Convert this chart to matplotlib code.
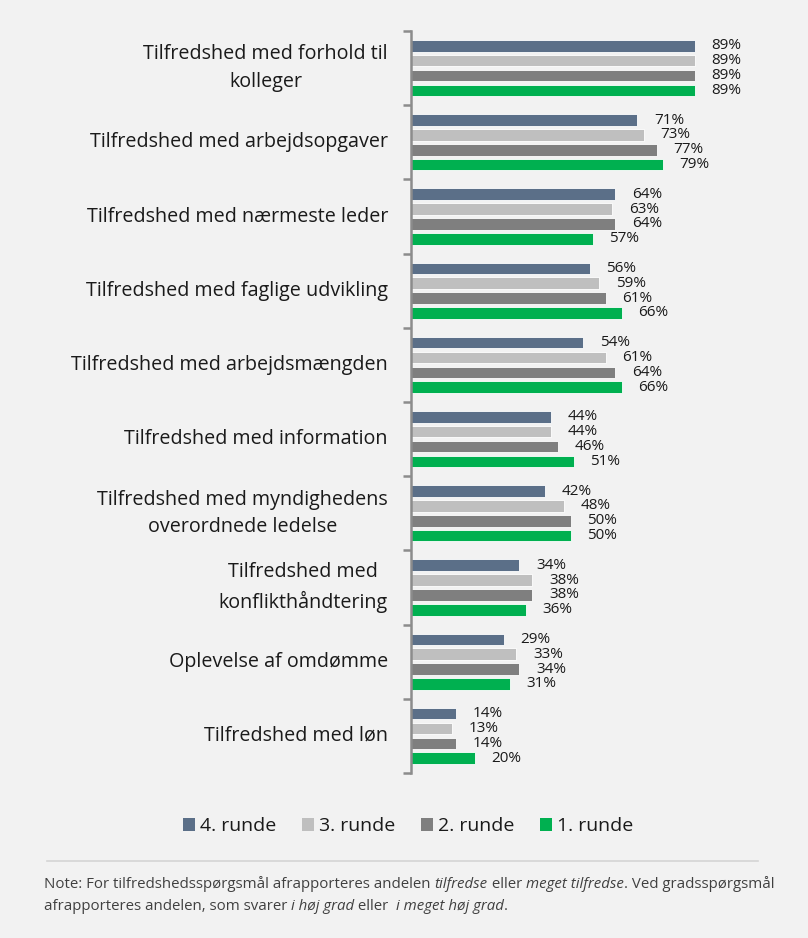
import numpy as np
import matplotlib
matplotlib.use("Agg")
from matplotlib import pyplot as plt
from matplotlib.patches import Patch
from matplotlib.lines import Line2D

plt.rcParams['font.family'] = ['Open Sans', 'DejaVu Sans']

# data
categories = [
    "Tilfredshed med forhold til\nkolleger",
    "Tilfredshed med arbejdsopgaver",
    "Tilfredshed med nærmeste leder",
    "Tilfredshed med faglige udvikling",
    "Tilfredshed med arbejdsmængden",
    "Tilfredshed med information",
    "Tilfredshed med myndighedens\noverordnede ledelse",
    "Tilfredshed med\nkonflikthåndtering",
    "Oplevelse af omdømme",
    "Tilfredshed med løn",
]
rounds = ["4. runde", "3. runde", "2. runde", "1. runde"]
runde4 = [89, 71, 64, 56, 54, 44, 42, 34, 29, 14]
runde3 = [89, 73, 63, 59, 61, 44, 48, 38, 33, 13]
runde2 = [89, 77, 64, 61, 64, 46, 50, 38, 34, 14]
runde1 = [89, 79, 57, 66, 66, 51, 50, 36, 31, 20]
series = [runde4, runde3, runde2, runde1]
colors = ["#5b6f88", "#bfbfbf", "#7f7f7f", "#00b050"]

bg = "#f2f2f2"
txtc = "#1a1a1a"
fig = plt.figure(figsize=(8.08, 9.38), dpi=100, facecolor=bg)
ax = fig.add_axes([411/808, 1-773/938, 319/808, (773-31)/938])
ax.set_facecolor(bg)

y = np.arange(len(categories))
pitch = 0.2
h = pitch * 0.78
for k, (vals, c) in enumerate(zip(series, colors)):
    pos = y + (k - 1.5) * pitch
    ax.barh(pos, vals, height=h, color=c, edgecolor="white", linewidth=0.6)
    for p, v in zip(pos, vals):
        ax.annotate(f"{v}%", (v, p), xytext=(12, 0), textcoords="offset points",
                    va="center", ha="left", fontsize=11, color=txtc,
                    annotation_clip=False)

ax.set_xlim(0, 100)
ax.set_ylim(len(categories) - 0.5, -0.5)
for s in ["top", "right", "bottom"]:
    ax.spines[s].set_visible(False)
ax.spines["left"].set_color("#8c8c8c")
ax.spines["left"].set_linewidth(1.8)
ax.set_xticks([])
ax.set_yticks(np.arange(-0.5, len(categories), 1))
ax.set_yticklabels([])
ax.tick_params(axis="y", length=6, width=1.8, color="#8c8c8c")

for i, cat in enumerate(categories):
    ax.text(-23/3.19, i, cat, ha="right", va="center", multialignment="center",
            fontsize=14.2, color=txtc, linespacing=1.5)

handles = [Patch(facecolor=c, edgecolor="none") for c in colors]
fig.legend(handles, rounds, loc="center", bbox_to_anchor=(408/808, 1-826/938),
           ncol=4, frameon=False, fontsize=14, handlelength=0.65, handleheight=0.65,
           handletextpad=0.25, columnspacing=1.3, labelcolor=txtc)

fig.add_artist(Line2D([47/808, 758/808], [1-861/938, 1-861/938], color="#d4d4d4", lw=1.2))

# note with italic runs
note_lines = [
    [("Note: For tilfredshedsspørgsmål afrapporteres andelen ", "normal"),
     ("tilfredse", "italic"), (" eller ", "normal"), ("meget tilfredse", "italic"),
     (". Ved gradsspørgsmål", "normal")],
    [("afrapporteres andelen, som svarer ", "normal"), ("i høj grad", "italic"),
     (" eller  ", "normal"), ("i meget høj grad", "italic"), (".", "normal")],
]
fig.canvas.draw()
r = fig.canvas.get_renderer()
for line, ypix in zip(note_lines, [884, 906]):
    x = 44
    for txt, style in line:
        t = fig.text(x/808, 1-ypix/938, txt, fontsize=10.8, style=style, color="#404040",
                     ha="left", va="center")
        bb = t.get_window_extent(renderer=r)
        x += bb.width

fig.savefig("out.png", dpi=100, facecolor=bg)
